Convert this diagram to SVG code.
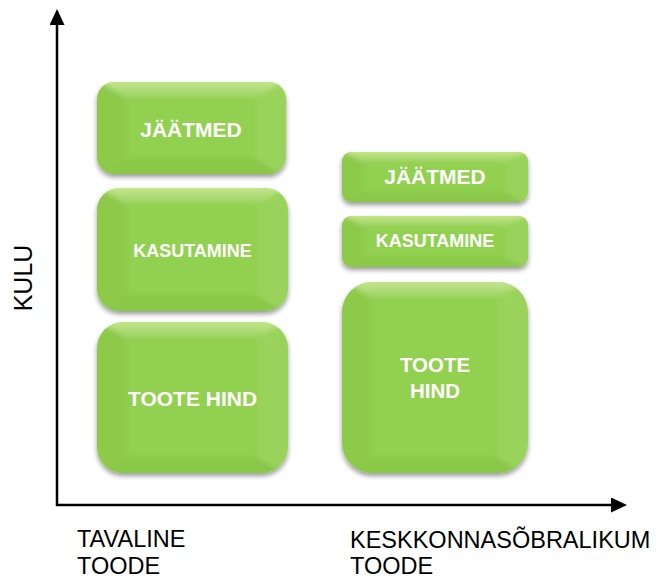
<svg xmlns="http://www.w3.org/2000/svg" width="658" height="579" viewBox="0 0 658 579">
<style>
.box-base{fill:#92D050;}
.bev-top{fill:url(#gTop);}
.bev-bot{fill:#3d6b12;fill-opacity:0.09;}
.bev-left{fill:#3d6b12;fill-opacity:0.06;}
.bev-right{fill:#ffffff;fill-opacity:0.07;}
.lbl{font-family:"Liberation Sans",Arial,sans-serif;font-weight:bold;fill:#ffffff;text-anchor:middle;}
.axis{stroke:#000;stroke-width:2.5;fill:none;}
.axlbl{font-family:"Liberation Sans",Arial,sans-serif;fill:#000;font-size:23.5px;}
</style>
<defs>
<linearGradient id="gTop" x1="0" y1="0" x2="0" y2="1">
<stop offset="0" stop-color="#ffffc0" stop-opacity="0.6"/>
<stop offset="1" stop-color="#ffffff" stop-opacity="0.08"/>
</linearGradient>
<filter id="shadow" x="-10%" y="-10%" width="120%" height="130%">
<feGaussianBlur in="SourceAlpha" stdDeviation="2.5"/>
<feOffset dx="0" dy="3" result="b"/>
<feComponentTransfer><feFuncA type="linear" slope="0.4"/></feComponentTransfer>
<feMerge><feMergeNode/><feMergeNode in="SourceGraphic"/></feMerge>
</filter>
<filter id="soft" x="-5%" y="-5%" width="110%" height="110%">
<feGaussianBlur stdDeviation="2.2"/>
</filter>
<marker id="arrow" viewBox="0 0 16 15" markerWidth="16" markerHeight="15" refX="1" refY="7.5" orient="auto" markerUnits="userSpaceOnUse">
<path d="M0,0 L16,7.5 L0,15 z" fill="#000"/>
</marker>
<clipPath id="cL1"><rect x="97" y="82" width="189" height="92" rx="17"/></clipPath>
<clipPath id="cL2"><rect x="97" y="188" width="191" height="123" rx="22"/></clipPath>
<clipPath id="cL3"><rect x="97" y="322" width="191" height="151" rx="26"/></clipPath>
<clipPath id="cR1"><rect x="342" y="152" width="186" height="50" rx="9"/></clipPath>
<clipPath id="cR2"><rect x="342" y="216" width="186" height="51" rx="9"/></clipPath>
<clipPath id="cR3"><rect x="342" y="282" width="186" height="191" rx="30"/></clipPath>
</defs>

<g id="connectors">
<path class="axis" d="M57,506 L57,24" marker-end="url(#arrow)"/>
<path class="axis" d="M56,505 L612,505" marker-end="url(#arrow)"/>
</g>

<g id="axis-labels">
<text class="axlbl" transform="translate(32,278) rotate(-90)" text-anchor="middle" style="font-size:25px">KULU</text>
<text class="axlbl" x="77" y="547">TAVALINE</text>
<text class="axlbl" x="77" y="574">TOODE</text>
<text class="axlbl" x="350" y="548">KESKKONNASÕBRALIKUM</text>
<text class="axlbl" x="350" y="574">TOODE</text>
</g>

<g id="left-jaatmed">
<rect class="box-base" x="97" y="82" width="189" height="92" rx="17" filter="url(#shadow)"/>
<g clip-path="url(#cL1)"><g filter="url(#soft)">
<polygon class="bev-top" points="90,76 293,76 256,98 127,98"/>
<polygon class="bev-bot" points="90,180 293,180 256,158 127,158"/>
<polygon class="bev-left" points="90,76 127,98 127,158 90,180"/>
<polygon class="bev-right" points="293,76 256,98 256,158 293,180"/>
</g></g>
<text class="lbl" x="191" y="137" font-size="21">JÄÄTMED</text>
</g>

<g id="left-kasutamine">
<rect class="box-base" x="97" y="188" width="191" height="123" rx="22" filter="url(#shadow)"/>
<g clip-path="url(#cL2)"><g filter="url(#soft)">
<polygon class="bev-top" points="90,182 295,182 258,204 127,204"/>
<polygon class="bev-bot" points="90,317 295,317 258,295 127,295"/>
<polygon class="bev-left" points="90,182 127,204 127,295 90,317"/>
<polygon class="bev-right" points="295,182 258,204 258,295 295,317"/>
</g></g>
<text class="lbl" x="192.5" y="257" font-size="18">KASUTAMINE</text>
</g>

<g id="left-toote-hind">
<rect class="box-base" x="97" y="322" width="191" height="151" rx="26" filter="url(#shadow)"/>
<g clip-path="url(#cL3)"><g filter="url(#soft)">
<polygon class="bev-top" points="90,316 295,316 258,338 127,338"/>
<polygon class="bev-bot" points="90,479 295,479 258,457 127,457"/>
<polygon class="bev-left" points="90,316 127,338 127,457 90,479"/>
<polygon class="bev-right" points="295,316 258,338 258,457 295,479"/>
</g></g>
<text class="lbl" x="192.5" y="406" font-size="21">TOOTE HIND</text>
</g>

<g id="right-jaatmed">
<rect class="box-base" x="342" y="152" width="186" height="50" rx="9" filter="url(#shadow)"/>
<g clip-path="url(#cR1)"><g filter="url(#soft)">
<polygon class="bev-top" points="336,148 534,148 506,162 364,162"/>
<polygon class="bev-bot" points="336,206 534,206 506,192 364,192"/>
<polygon class="bev-left" points="336,148 364,162 364,192 336,206"/>
<polygon class="bev-right" points="534,148 506,162 506,192 534,206"/>
</g></g>
<text class="lbl" x="435" y="184" font-size="21">JÄÄTMED</text>
</g>

<g id="right-kasutamine">
<rect class="box-base" x="342" y="216" width="186" height="51" rx="9" filter="url(#shadow)"/>
<g clip-path="url(#cR2)"><g filter="url(#soft)">
<polygon class="bev-top" points="336,212 534,212 506,226 364,226"/>
<polygon class="bev-bot" points="336,271 534,271 506,257 364,257"/>
<polygon class="bev-left" points="336,212 364,226 364,257 336,271"/>
<polygon class="bev-right" points="534,212 506,226 506,257 534,271"/>
</g></g>
<text class="lbl" x="435" y="247" font-size="18">KASUTAMINE</text>
</g>

<g id="right-toote-hind">
<rect class="box-base" x="342" y="282" width="186" height="191" rx="30" filter="url(#shadow)"/>
<g clip-path="url(#cR3)"><g filter="url(#soft)">
<polygon class="bev-top" points="336,276 534,276 498,298 372,298"/>
<polygon class="bev-bot" points="336,479 534,479 498,457 372,457"/>
<polygon class="bev-left" points="336,276 372,298 372,457 336,479"/>
<polygon class="bev-right" points="534,276 498,298 498,457 534,479"/>
</g></g>
<text class="lbl" x="435" y="372" font-size="20.5">TOOTE</text>
<text class="lbl" x="435" y="398" font-size="20.5">HIND</text>
</g>
</svg>
